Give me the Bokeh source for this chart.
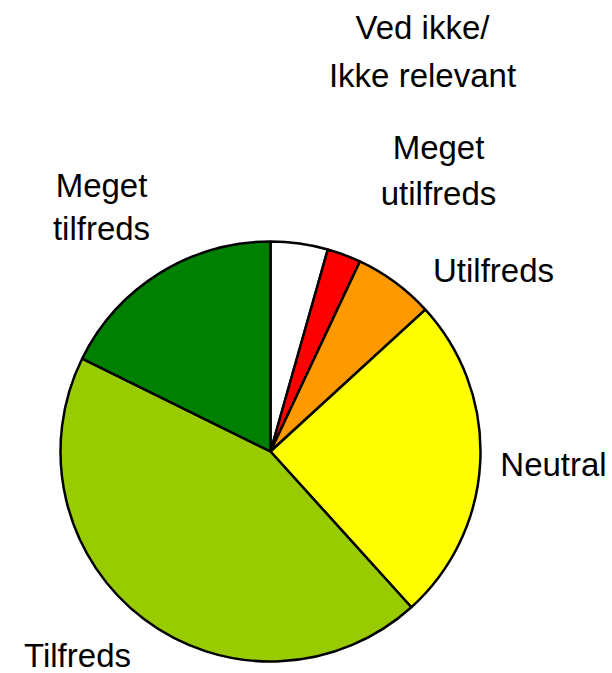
import numpy as np
from bokeh.plotting import figure
from bokeh.models import ColumnDataSource, Range1d
from bokeh.core.properties import value
from bokeh.embed import file_html
from bokeh.resources import INLINE

# ---- data (clockwise from 12 o'clock) ----
categories = ["Ved ikke/\nIkke relevant", "Meget utilfreds", "Utilfreds", "Neutral", "Tilfreds", "Meget tilfreds"]
shares = [4.4, 2.6, 6.2, 25.1, 44.0, 17.7]
colors = ["#FFFFFF", "#FF0000", "#FF9900", "#FFFF00", "#99CC00", "#008000"]

# label lines (text) for each category
label_lines = [["Ved ikke/", "Ikke relevant"], ["Meget", "utilfreds"], ["Utilfreds"], ["Neutral"], ["Tilfreds"], ["Meget", "tilfreds"]]

# ---- layout (page pixel coordinates) ----
W, H = 612, 673
SX, SY, R = 270, 451, 210
# label anchor (center x, baselines) in page pixels
label_pos = [(422, [37, 85]), (438, [157, 203]), (493, [280]), (553, [474]), (77, [665]), (101, [195, 238])]
TEXT_SHIFT = 10  # compensate renderer's baseline offset

vals = np.array(shares, dtype=float)
frac = vals / vals.sum()
cum = np.concatenate([[0], np.cumsum(frac)])
start = np.pi / 2 - cum[:-1] * 2 * np.pi
end = np.pi / 2 - cum[1:] * 2 * np.pi

src = ColumnDataSource(dict(start=start, end=end, color=colors, cat=categories))

p = figure(width=W, height=H, output_backend="svg", toolbar_location=None,
           x_range=Range1d(0, W), y_range=Range1d(0, H),
           x_axis_location=None, y_axis_location=None, min_border=0)
p.grid.visible = False
p.outline_line_color = None

p.wedge(x=SX, y=H - SY, radius=R, start_angle="start", end_angle="end", direction="clock",
        fill_color="color", line_color="black", line_width=2.5, source=src)

tx, ty, tt = [], [], []
for lines, (sx, bases) in zip(label_lines, label_pos):
    for ln, b in zip(lines, bases):
        tx.append(sx)
        ty.append(H - (b - TEXT_SHIFT))
        tt.append(ln)
p.text(x=tx, y=ty, text=tt, text_align="center", text_baseline="alphabetic",
       text_font=value("Liberation Sans"), text_font_size="33px", text_color="black")

open("out.html", "w").write(file_html(p, INLINE))
